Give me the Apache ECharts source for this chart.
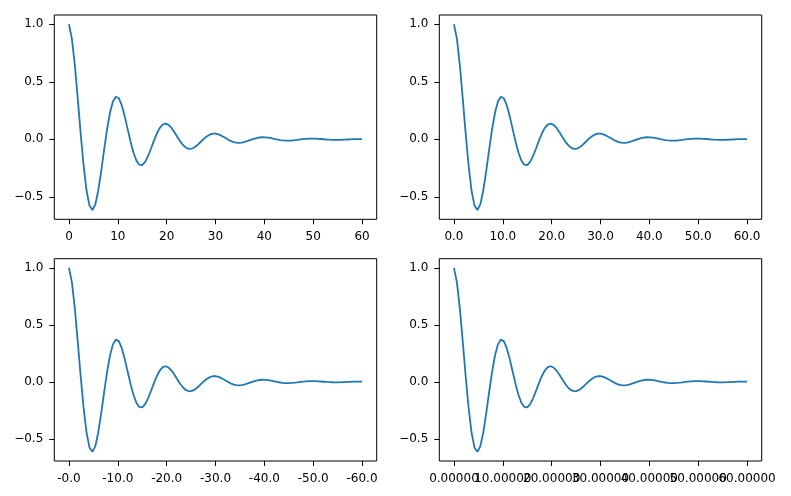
<!DOCTYPE html>
<html>
<head>
<meta charset="utf-8">
<script src="https://cdn.jsdelivr.net/npm/echarts@6/dist/echarts.min.js"></script>
<style>html,body{margin:0;padding:0;background:#fff;}#c{width:791px;height:496px;}</style>
</head>
<body>
<div id="c"></div>
<script>
var xValues = [0,0.6,1.2,1.8,2.4,3,3.6,4.2,4.8,5.4,6,6.6,7.2,7.8,8.4,9,9.6,10.2,10.8,11.4,12,12.6,13.2,13.8,14.4,15,15.6,16.2,16.8,17.4,18,18.6,19.2,19.8,20.4,21,21.6,22.2,22.8,23.4,24,24.6,25.2,25.8,26.4,27,27.6,28.2,28.8,29.4,30,30.6,31.2,31.8,32.4,33,33.6,34.2,34.8,35.4,36,36.6,37.2,37.8,38.4,39,39.6,40.2,40.8,41.4,42,42.6,43.2,43.8,44.4,45,45.6,46.2,46.8,47.4,48,48.6,49.2,49.8,50.4,51,51.6,52.2,52.8,53.4,54,54.6,55.2,55.8,56.4,57,57.6,58.2,58.8,59.4,60];
var yValues = [1.000,0.8757,0.6466,0.3557,0.0494,-0.2289,-0.4447,-0.5757,-0.6139,-0.5644,-0.4440,-0.2770,-0.0912,0.0859,0.2313,0.3289,0.3709,0.3578,0.2976,0.2038,0.0931,-0.0178,-0.1137,-0.1834,-0.2203,-0.2231,-0.1954,-0.1443,-0.0794,-0.0110,0.0511,0.0992,0.1285,0.1370,0.1259,0.0991,0.0618,0.0204,-0.0192,-0.0516,-0.0734,-0.0827,-0.0799,-0.0664,-0.0455,-0.0208,0.0040,0.0254,0.0409,0.0492,0.0498,0.0436,0.0322,0.0177,0.0025,-0.0114,-0.0221,-0.0287,-0.0306,-0.0281,-0.0221,-0.0138,-0.0045,0.0043,0.0115,0.0164,0.0185,0.0178,0.0148,0.0101,0.0046,-0.0009,-0.0057,-0.0091,-0.0110,-0.0111,-0.0097,-0.0072,-0.0040,-0.0005,0.0025,0.0049,0.0064,0.0068,0.0063,0.0049,0.0031,0.0010,-0.0010,-0.0026,-0.0037,-0.0041,-0.0040,-0.0033,-0.0023,-0.0010,0.0002,0.0013,0.0020,0.0025,0.0025];
var xTicks = [0,10,20,30,40,50,60];
var xTicksEven = [0,20,40,60];
var xTicksOdd = [10,30,50];
var xLabelsA = ['0','10','20','30','40','50','60'];
var xLabelsB = ['0.0','10.0','20.0','30.0','40.0','50.0','60.0'];
var xLabelsC = ['-0.0','-10.0','-20.0','-30.0','-40.0','-50.0','-60.0'];
var xLabelsD = ['0.00000','10.00000','20.00000','30.00000','40.00000','50.00000','60.00000'];
var yTicks = [-0.5,0,0.5,1.0];
var yLabels = ['\u22120.5','0.0','0.5','1.0'];

var chart = echarts.init(document.getElementById('c'), null, {renderer:'canvas'});
var font = 'DejaVu Sans';
var grids = [
  {left:54.3, top:15, width:322.4, height:204.3},
  {left:439.3, top:15, width:322.4, height:204.3},
  {left:54.3, top:258.7, width:322.4, height:202.3},
  {left:439.3, top:258.7, width:322.4, height:202.3}
];
var xLabelSets = [xLabelsA, xLabelsB, xLabelsC, xLabelsD];
function lookup(ticks, labels){
  return function(v){
    for (var i=0;i<ticks.length;i++){ if (Math.abs(ticks[i]-v)<1e-9) return labels[i]; }
    return '';
  };
}
function makeX(gi, labelVals, labels, showTicks){
  return {type:'value', gridIndex:gi, min:-3, max:63, position:'bottom', offset:0,
    axisLine:{show:false, onZero:false}, splitLine:{show:false},
    axisTick:{show:showTicks, inside:false, length:5, customValues:xTicks, lineStyle:{color:'#000', width:1}},
    axisLabel:{show:true, customValues:labelVals, formatter:lookup(xTicks, labels), margin:12,
      color:'#000', fontFamily:font, fontSize:12, hideOverlap:false, showMinLabel:true, showMaxLabel:true}};
}
var xAxes=[], yAxes=[], series=[], gridOpts=[];
for (var i=0;i<4;i++){
  gridOpts.push({left:grids[i].left, top:grids[i].top, width:grids[i].width, height:grids[i].height,
    show:true, borderColor:'#000', borderWidth:1, backgroundColor:'#fff', containLabel:false});
  xAxes.push(makeX(i, i===3 ? xTicksEven : xTicks, xLabelSets[i], true));
  yAxes.push({type:'value', gridIndex:i, min:-0.6946, max:1.0807, position:'left',
    axisLine:{show:false, onZero:false}, splitLine:{show:false},
    axisTick:{show:true, inside:false, length:5, customValues:yTicks, lineStyle:{color:'#000', width:1}},
    axisLabel:{show:true, customValues:yTicks, formatter:lookup(yTicks, yLabels), margin:11,
      color:'#000', fontFamily:font, fontSize:12, showMinLabel:true, showMaxLabel:true}});
  var d=[];
  for (var k=0;k<xValues.length;k++) d.push([xValues[k], yValues[k]]);
  series.push({type:'line', xAxisIndex:i, yAxisIndex:i, data:d, showSymbol:false, symbol:'none',
    lineStyle:{color:'#1f77b4', width:1.8}, animation:false, silent:true});
}
// second label row for the crowded bottom-right axis (labels overlap there, as in the reference)
xAxes.push(makeX(3, xTicksOdd, xLabelsD, false));
chart.setOption({animation:false, grid:gridOpts, xAxis:xAxes, yAxis:yAxes, series:series});
</script>
</body>
</html>
